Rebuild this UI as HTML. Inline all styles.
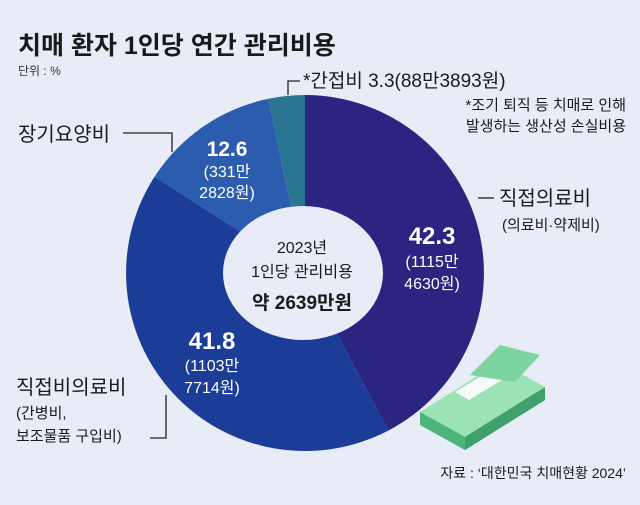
<!DOCTYPE html>
<html><head><meta charset="utf-8"><style>
body{margin:0;width:640px;height:500px;background:#e8ecf6;overflow:hidden;font-family:"Liberation Sans","Noto Sans CJK KR",sans-serif;}
</style></head><body>
<svg width="640" height="500" viewBox="0 0 640 500" xmlns="http://www.w3.org/2000/svg" font-family="Liberation Sans, Noto Sans CJK KR, sans-serif">
<rect width="640" height="500" fill="#e8ecf6"/>
<text x="18" y="54" font-size="25" font-weight="bold" fill="#1a1a1a">치매 환자 1인당 연간 관리비용</text>
<text x="18" y="75" font-size="12" fill="#333">단위 : %</text>
<g transform="translate(305,273) scale(1.005,1)">
<path d="M0,0 L0,-178 A178,178 0 0 1 82.8,157.6Z" fill="#2a2581"/>
<path d="M0,0 L82.8,157.6 A178,178 0 0 1 -149.7,-96.3Z" fill="#1b3d97"/>
<path d="M0,0 L-149.7,-96.3 A178,178 0 0 1 -36.6,-174.2Z" fill="#2b5cae"/>
<path d="M0,0 L-36.6,-174.2 A178,178 0 0 1 0,-178Z" fill="#2a7592"/>
</g>
<ellipse cx="303" cy="273" rx="80" ry="67" fill="#e8ecf6"/>
<g fill="none" stroke="#222" stroke-width="1.3">
<path d="M288,95 V81 H300"/>
<path d="M123,133 H172 V152"/>
<path d="M478,198 H494"/>
<path d="M166,395 V438 H150"/>
</g>
<text x="303" y="87" font-size="19" fill="#1a1a1a">*간접비 3.3(88만3893원)</text>
<text x="626" y="110" font-size="15" fill="#1a1a1a" text-anchor="end">*조기 퇴직 등 치매로 인해</text>
<text x="626" y="131" font-size="15" fill="#1a1a1a" text-anchor="end">발생하는 생산성 손실비용</text>
<text x="18" y="141" font-size="20" fill="#1a1a1a">장기요양비</text>
<text x="499" y="205" font-size="20" fill="#1a1a1a">직접의료비</text>
<text x="502" y="230" font-size="15" fill="#1a1a1a">(의료비·약제비)</text>
<text x="16" y="394" font-size="20" fill="#1a1a1a">직접비의료비</text>
<text x="16" y="418" font-size="15" fill="#1a1a1a">(간병비,</text>
<text x="16" y="441" font-size="15" fill="#1a1a1a">보조물품 구입비)</text>
<g fill="#fff" text-anchor="middle">
<text x="227" y="156" font-size="21" font-weight="bold">12.6</text>
<text x="227" y="177" font-size="16">(331만</text>
<text x="227" y="198" font-size="16">2828원)</text>
<text x="432" y="244" font-size="24" font-weight="bold">42.3</text>
<text x="432" y="267" font-size="16">(1115만</text>
<text x="432" y="289" font-size="16">4630원)</text>
<text x="212" y="349" font-size="24" font-weight="bold">41.8</text>
<text x="212" y="371" font-size="16">(1103만</text>
<text x="212" y="393" font-size="16">7714원)</text>
</g>
<g fill="#1a1a1a" text-anchor="middle">
<text x="302" y="253" font-size="16">2023년</text>
<text x="302" y="277" font-size="16">1인당 관리비용</text>
<text x="302" y="309" font-size="19" font-weight="bold">약 2639만원</text>
</g>
<g>
<polygon points="420,425 500,375 545,400 465,450" fill="#6fcf97"/>
<polygon points="420,412 500,362 545,387 465,437" fill="#9be2b5"/>
<polygon points="420,425 465,450 465,437 420,412" fill="#4fb37c"/>
<polygon points="465,450 545,400 545,387 465,437" fill="#3fa06c"/>
<polygon points="455,392 514,356 528,364 469,400" fill="#fff" opacity="0.9"/>
<polygon points="470,375 500,345 540,355 515,382" fill="#7cd4a0"/>
</g>
<text x="626" y="478" font-size="14" fill="#1a1a1a" text-anchor="end">자료 : ‘대한민국 치매현황 2024’</text>
</svg>
</body></html>
